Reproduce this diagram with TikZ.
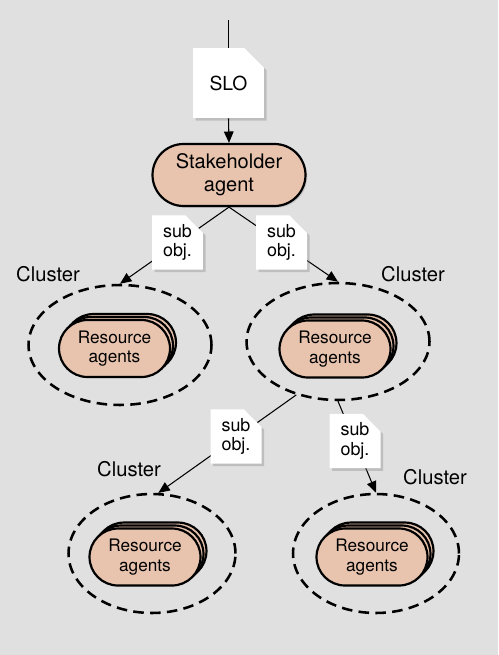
\documentclass[tikz,border=0pt]{standalone}
\usepackage{fontspec}
\setmainfont{TeX Gyre Heros}
\usepackage{xcolor}
\usetikzlibrary{shapes.geometric}
\usetikzlibrary{shapes.misc}
\usetikzlibrary{shadows}
\usetikzlibrary{arrows.meta}
\definecolor{bggray}{RGB}{224,224,224}
\definecolor{agentfill}{RGB}{232,196,175}
\tikzset{
    agent/.style = {rounded rectangle, draw = black, line width = 1.25pt,
        fill = agentfill, align = center, inner sep = 0pt},
    agentstack/.style = {agent, minimum width = 2.22cm, minimum height = 1.14cm,
        font = \fontsize{9.8}{11}\selectfont,
        double copy shadow = {shadow xshift = 1.7pt, shadow yshift = 1.7pt,
            fill = agentfill, draw = black, line width = 1.25pt}},
    doc/.style = {chamfered rectangle, chamfered rectangle corners = north east,
        fill = white, draw = none, align = center, inner sep = 0pt,
        drop shadow = {shadow xshift = 1.5pt, shadow yshift = -1.5pt, opacity = 0.35}},
    subdoc/.style = {doc, minimum width = 1.02cm, minimum height = 1.06cm,
        chamfered rectangle xsep = 5pt, chamfered rectangle ysep = 5pt,
        font = \fontsize{10.2}{11.2}\selectfont},
    cluster/.style = {ellipse, draw = black, line width = 1.45pt,
        dash pattern = on 6pt off 3.6pt, inner sep = 0pt},
    link/.style = {line width = 0.6pt, -{Triangle[length = 6.5pt, width = 5.5pt]}},
    clusterlabel/.style = {font = \fontsize{11.5}{13}\selectfont}
}
\begin{document}
\begin{tikzpicture}[x = 0.02cm, y = -0.02cm]
        % background
        \fill[bggray] (0,0) rectangle (498, 655);
        \useasboundingbox (0,0) rectangle (498, 655);

        % clusters
        \node[cluster, minimum width = 3.66cm, minimum height = 2.4cm] (c1) at (120, 345) {};
        \node[cluster, minimum width = 3.66cm, minimum height = 2.34cm] (c2) at (338, 341.5) {};
        \node[cluster, minimum width = 3.34cm, minimum height = 2.38cm] (c3) at (152, 553.5) {};
        \node[cluster, minimum width = 3.32cm, minimum height = 2.38cm] (c4) at (376, 553.5) {};

        \node[clusterlabel] (l1) at (48, 274) {Cluster};
        \node[clusterlabel] (l2) at (413, 274) {Cluster};
        \node[clusterlabel] (l3) at (129, 469) {Cluster};
        \node[clusterlabel] (l4) at (435, 477) {Cluster};

        % resource agents
        \node[agentstack] (ra1) at (114.5, 348.5) {Resource\\agents};
        \node[agentstack] (ra2) at (335, 349) {Resource\\agents};
        \node[agentstack] (ra3) at (145, 557) {Resource\\agents};
        \node[agentstack] (ra4) at (372, 557) {Resource\\agents};

        % stakeholder and SLO
        \node[agent, minimum width = 3.06cm, minimum height = 1.24cm,
            font = \fontsize{11.4}{13}\selectfont,
            drop shadow = {shadow xshift = 1pt, shadow yshift = -1pt, opacity = 0.25}]
            (sh) at (229, 175) {Stakeholder\\agent};
        \node[doc, minimum width = 1.42cm, minimum height = 1.4cm,
            chamfered rectangle xsep = 7pt, chamfered rectangle ysep = 7pt,
            font = \fontsize{11}{13}\selectfont] (slo) at (228.5, 83) {SLO};
        \coordinate (in) at (228.5, 20);

        % connectors
        \draw[line width = 0.6pt] (in) -- (slo.north);
        \draw[link] (slo.south) -- (sh.north);
        \draw[link] (sh.south) -- (c1.north);
        \draw[link] (sh.south) -- (c2.north);
        \draw[link] (c2.232) -- (c3.84);
        \draw[link] (c2.south) -- (c4.north);

        % sub objectives
        \node[subdoc] (o1) at (177.5, 242.5) {sub\\obj.};
        \node[subdoc] (o2) at (281.5, 242.5) {sub\\obj.};
        \node[subdoc] (o3) at (236, 436.5) {sub\\obj.};
        \node[subdoc] (o4) at (355, 441) {sub\\obj.};
    \end{tikzpicture}
\end{document}
